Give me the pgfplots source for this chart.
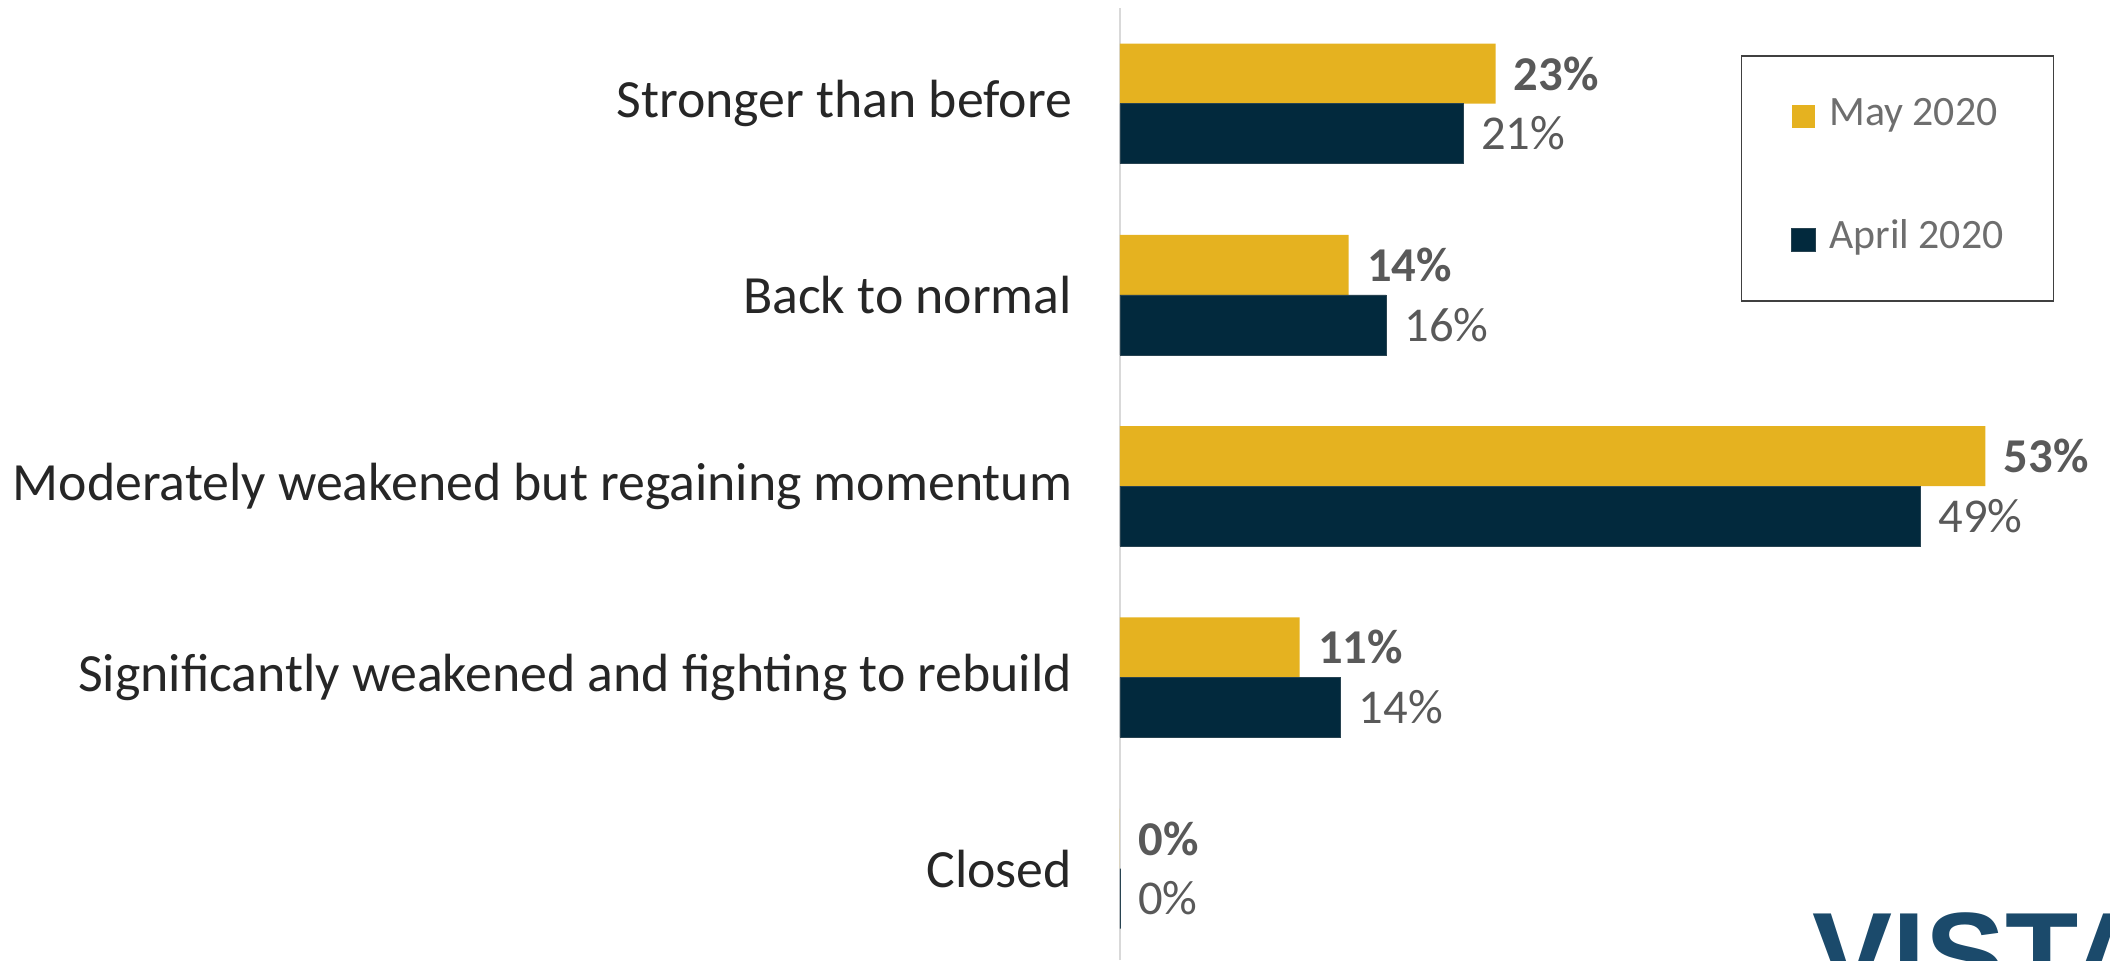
\documentclass[border=0pt]{standalone}
\usepackage{pgfplots}
\pgfplotsset{compat=1.18}
\usepackage{pgfplotstable}
\usepackage{fontspec}
\setmainfont{Carlito}
\newfontfamily\logofont{Liberation Sans}
\definecolor{maygold}{HTML}{E5B220}
\definecolor{aprnavy}{HTML}{02293D}
\definecolor{labtext}{HTML}{262626}
\definecolor{valgrey}{HTML}{595959}
\definecolor{leggrey}{HTML}{6E6E6E}
\definecolor{legbox}{HTML}{404040}
\definecolor{axgrey}{HTML}{D9D9D9}
\definecolor{logoblue}{HTML}{1B4A6B}

% y: 4 = top category
\pgfplotstableread{
y   may   maylab  apr   aprlab
4   23.0  23      21.0  21
3   14.0  14      16.3  16
2   53.0  53      49.0  49
1   11.0  11      13.5  14
0   0     0       0     0
}\datatab

\begin{document}
\begin{tikzpicture}
\path[use as bounding box] (-560pt,0pt) rectangle (495pt,480pt);
\begin{axis}[
  at={(0pt,0pt)}, anchor=south west,
  scale only axis, width=489.9pt, height=476pt,
  xmin=0, xmax=60, ymin=-0.478, ymax=4.5,
  xbar, bar width=30pt,
  axis x line=none, axis y line*=left,
  y axis line style={draw=axgrey, line width=0.65pt, -},
  ytick={0,1,2,3,4},
  yticklabels={Closed, Significantly weakened and fighting to rebuild, Moderately weakened but regaining momentum, Back to normal, Stronger than before},
  ytick style={draw=none},
  yticklabel style={font=\fontsize{26.9}{31}\selectfont, text=labtext, inner sep=0pt, xshift=-19.5pt},
  point meta=explicit symbolic,
  nodes near coords={\pgfplotspointmeta\%},
  clip=false,
  legend image code/.code={\fill[#1] (0pt,-5.85pt) rectangle (11.7pt,5.85pt);},
  legend style={at={(0.6335,0.9506)}, anchor=north west, draw=legbox, line width=0.75pt,
    font=\fontsize{20.9}{24}\selectfont, text=leggrey,
    inner xsep=25pt, inner ysep=22pt, row sep=44.5pt,
    nodes={inner sep=0pt, text height=13pt, text depth=4pt},
    /tikz/every odd column/.append style={column sep=7pt}},
  legend cell align=left,
]
\addplot[xbar, bar shift=15pt, fill=maygold, draw=none,
  every node near coord/.append style={font=\bfseries\fontsize{24.3}{28}\selectfont, text=valgrey, anchor=west, inner sep=0pt, xshift=9pt}]
  table[x=may, y=y, meta=maylab] {\datatab};
\addplot[xbar, bar shift=-15pt, fill=aprnavy, draw=aprnavy!70!gray, line width=0.3pt,
  every node near coord/.append style={font=\fontsize{24.3}{28}\selectfont, text=valgrey, anchor=west, inner sep=0pt, xshift=9pt}]
  table[x=apr, y=y, meta=aprlab] {\datatab};
\legend{May 2020, April 2020}
\end{axis}
\node[anchor=north west, inner sep=0pt, text=logoblue] at (346pt,24pt) {\logofont\bfseries\fontsize{60}{60}\selectfont VISTA};
\end{tikzpicture}
\end{document}
